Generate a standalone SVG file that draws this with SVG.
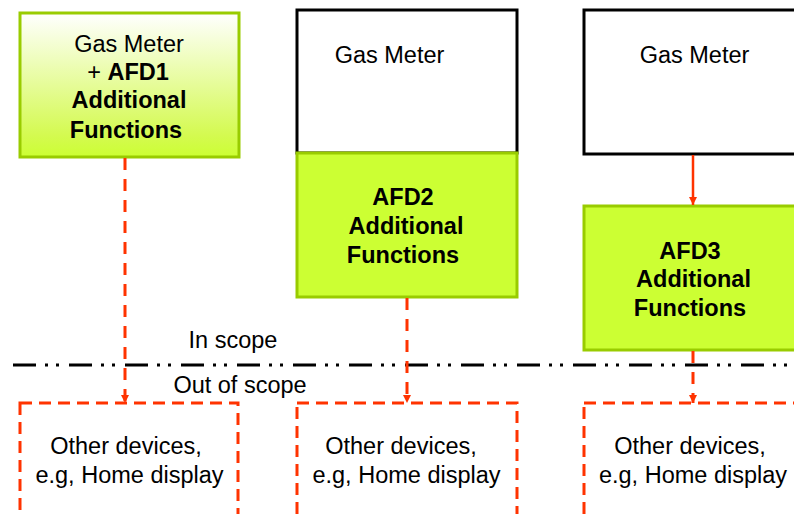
<svg xmlns="http://www.w3.org/2000/svg" width="794" height="514" viewBox="0 0 794 514">
<defs>
<linearGradient id="g1" x1="0" y1="0" x2="0" y2="1">
<stop offset="0" stop-color="#ffffff"/>
<stop offset="0.85" stop-color="#d4fa50"/>
<stop offset="1" stop-color="#ccff33"/>
</linearGradient>
<marker id="ah" markerWidth="10" markerHeight="10" refX="8" refY="5" orient="auto" markerUnits="userSpaceOnUse">
<path d="M0,1 L8,5 L0,9 Z" fill="#ff3300"/>
</marker>
</defs>
<style>
text{font-family:"Liberation Sans",Arial,sans-serif;font-size:23.5px;fill:#000;text-anchor:middle}
.b{font-weight:bold}
.green{fill:#ccff33;stroke:#99cc00;stroke-width:3}
.meter{fill:#fff;stroke:#000;stroke-width:3}
.dev{fill:none;stroke:#ff3300;stroke-width:3;stroke-dasharray:12 7}
.conn{stroke:#ff3300;stroke-width:2.5;fill:none;marker-end:url(#ah)}
.dash{stroke-width:3;stroke-dasharray:12 9}
</style>
<rect width="794" height="514" fill="#fff"/>
<g id="scope">
<line x1="13" y1="365" x2="794" y2="365" stroke="#000" stroke-width="3" stroke-dasharray="23 9 3 8 3 10"/>
<text x="233" y="348">In scope</text>
<text x="240" y="393">Out of scope</text>
</g>
<g id="meter1">
<rect x="20" y="13" width="219" height="144" fill="url(#g1)" stroke="#99cc00" stroke-width="3"/>
<text x="129" y="51.5">Gas Meter</text>
<text x="128" y="80">+ <tspan class="b">AFD1</tspan></text>
<text x="129" y="108" class="b">Additional</text>
<text x="126" y="138" class="b">Functions</text>
</g>
<g id="meter2">
<rect x="297" y="10" width="220" height="143" class="meter"/>
<text x="389.5" y="63">Gas Meter</text>
</g>
<g id="afd2">
<rect x="297" y="153" width="220" height="144" class="green"/>
<text x="403" y="205" class="b">AFD2</text>
<text x="406" y="234" class="b">Additional</text>
<text x="403" y="263" class="b">Functions</text>
</g>
<g id="meter3">
<rect x="584" y="10" width="220" height="144" class="meter"/>
<text x="694.5" y="63">Gas Meter</text>
</g>
<g id="afd3">
<rect x="584" y="206" width="220" height="144" class="green"/>
<text x="690" y="258.5" class="b">AFD3</text>
<text x="693.5" y="287" class="b">Additional</text>
<text x="690" y="316" class="b">Functions</text>
</g>
<g id="dev1">
<rect x="20" y="403" width="218" height="130" class="dev"/>
<text x="126" y="454">Other devices,</text>
<text x="129.5" y="483">e.g, Home display</text>
</g>
<g id="dev2">
<rect x="297" y="403" width="220" height="130" class="dev"/>
<text x="401" y="454">Other devices,</text>
<text x="406.5" y="483">e.g, Home display</text>
</g>
<g id="dev3">
<rect x="584" y="403" width="220" height="130" class="dev"/>
<text x="690" y="454">Other devices,</text>
<text x="693" y="483">e.g, Home display</text>
</g>
<g id="connectors">
<line x1="125" y1="158" x2="125" y2="403" class="conn dash"/>
<line x1="407" y1="298" x2="407" y2="403" class="conn dash"/>
<line x1="693" y1="351" x2="693" y2="403" class="conn dash"/>
<line x1="693" y1="155" x2="693" y2="205" class="conn"/>
</g>
</svg>
